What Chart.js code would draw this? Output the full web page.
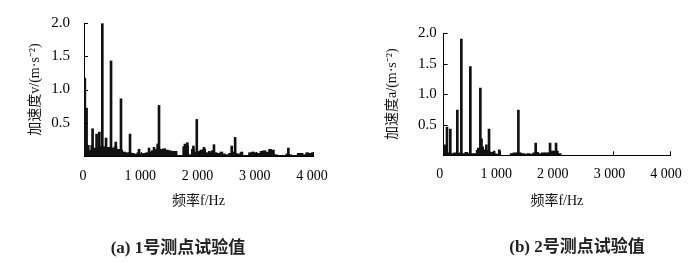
<!DOCTYPE html>
<html>
<head>
<meta charset="utf-8">
<script src="https://cdn.jsdelivr.net/npm/chart.js@4"></script>
<style>
    body { margin: 0; background: #fff; }
    #wrap { position: relative; width: 700px; height: 262px; overflow: hidden; }
    canvas { position: absolute; top: 0; }
    .caption {
        position: absolute; font-family: 'Liberation Serif', 'Noto Sans CJK SC', serif;
        font-size: 17px; font-weight: bold; color: #222; white-space: nowrap; transform: translate(-50%, -50%);
    }
</style>
</head>
<body>
<div id="wrap">
    <canvas id="chartA" width="350" height="262" style="left:0"></canvas>
    <canvas id="chartB" width="350" height="262" style="left:350px"></canvas>
    <div class="caption" style="left:178px; top:245px">(a) 1号测点试验值</div>
    <div class="caption" style="left:577px; top:244px">(b) 2号测点试验值</div>
</div>
<script>
// ejes compartidos
const xTicks = [0, 1000, 2000, 3000, 4000];
const xTickLabels = ['0', '1 000', '2 000', '3 000', '4 000'];
const yTicks = [0.5, 1.0, 1.5, 2.0];
const yTickLabels = ['0.5', '1.0', '1.5', '2.0'];

// (a) 1号测点 - picos principales
const peakFreqA = [15, 45, 75, 135, 150, 220, 268, 320, 385, 410, 472, 555, 646, 804, 961,
    1136, 1223, 1287, 1310, 1763, 1806, 1911, 1970, 2096, 2190, 2270, 2580, 2640, 2754, 3570];
const peakAmpA = [1.17, 0.72, 0.16, 0.16, 0.41, 0.33, 0.36, 1.99, 0.27, 0.13, 1.43, 0.21, 0.86, 0.33, 0.10,
    0.12, 0.13, 0.18, 0.76, 0.18, 0.20, 0.15, 0.55, 0.13, 0.07, 0.17, 0.15, 0.28, 0.06, 0.12];

// (a) fondo del espectro, cada 50 Hz
const floorFreqA = [0, 50, 100, 150, 200, 250, 300, 350, 400, 450, 500, 550, 600, 650, 700, 750, 800,
    850, 900, 950, 1000, 1050, 1100, 1150, 1200, 1250, 1300, 1350, 1400, 1450, 1500, 1550, 1600,
    1650, 1700, 1750, 1800, 1850, 1900, 1950, 2000, 2050, 2100, 2150, 2200, 2250, 2300, 2350, 2400,
    2450, 2500, 2550, 2600, 2650, 2700, 2750, 2800, 2850, 2900, 2950, 3000, 3050, 3100, 3150, 3200,
    3250, 3300, 3350, 3400, 3450, 3500, 3550, 3600, 3650, 3700, 3750, 3800, 3850, 3900, 3950, 4000];
const floorAmpA = [0.15, 0.10, 0.08, 0.10, 0.12, 0.12, 0.14, 0.14, 0.12, 0.13, 0.12, 0.14, 0.10, 0.09, 0.06, 0.05, 0.05,
    0.04, 0.03, 0.05, 0.03, 0.04, 0.05, 0.06, 0.08, 0.10, 0.12, 0.10, 0.11, 0.09, 0.08, 0.07, 0.07,
    0.01, 0.01, 0.14, 0.15, 0.02, 0.10, 0.06, 0.07, 0.09, 0.10, 0.05, 0.05, 0.08, 0.05, 0.04, 0.06,
    0.03, 0.02, 0.04, 0.06, 0.04, 0.03, 0.05, 0.01, 0.01, 0.05, 0.06, 0.05, 0.04, 0.07, 0.08, 0.06,
    0.10, 0.09, 0.02, 0.01, 0.01, 0.01, 0.03, 0.02, 0.01, 0.01, 0.04, 0.04, 0.02, 0.05, 0.04, 0.05];

// (b) 2号测点 - picos principales
const peakFreqB = [29, 58, 117, 241, 312, 471, 612, 648, 668, 690, 754, 801, 890, 983, 1320, 1626, 1880, 1986];
const peakAmpB = [0.17, 0.46, 0.43, 0.74, 1.90, 1.45, 0.12, 1.10, 0.27, 0.14, 0.17, 0.43, 0.07, 0.09, 0.74, 0.20, 0.20, 0.20];

// (b) fondo del espectro, cada 50 Hz
const floorFreqB = [0, 50, 100, 150, 200, 250, 300, 350, 400, 450, 500, 550, 600, 650, 700, 750, 800,
    850, 900, 950, 1000, 1050, 1100, 1150, 1200, 1250, 1300, 1350, 1400, 1450, 1500, 1550, 1600,
    1650, 1700, 1750, 1800, 1850, 1900, 1950, 2000, 2050];
const floorAmpB = [0.04, 0.04, 0.04, 0.03, 0.04, 0.03, 0.04, 0.03, 0.05, 0.03, 0.03, 0.03, 0.08, 0.10, 0.09, 0.08, 0.06,
    0.05, 0.03, 0.02, 0, 0, 0, 0, 0.03, 0.04, 0.04, 0.04, 0.03, 0.02, 0.03, 0.02, 0.04,
    0.05, 0.03, 0.04, 0.04, 0.04, 0.07, 0.07, 0.07, 0.03];

const FONT = "'Liberation Serif', 'Noto Sans CJK SC', serif";

// marcas de escala hacia adentro
const innerTicks = {
    id: 'innerTicks',
    afterDraw(chart) {
        const ctx = chart.ctx;
        const {left, bottom} = chart.chartArea;
        ctx.save();
        ctx.strokeStyle = '#000';
        ctx.lineWidth = 1;
        ctx.beginPath();
        yTicks.forEach(v => {
            const y = Math.round(chart.scales.y.getPixelForValue(v)) + 0.5;
            ctx.moveTo(left, y);
            ctx.lineTo(left + 4, y);
        });
        xTicks.slice(1).forEach(v => {
            const x = Math.round(chart.scales.x.getPixelForValue(v)) + 0.5;
            ctx.moveTo(x, bottom);
            ctx.lineTo(x, bottom - 4);
        });
        ctx.stroke();
        ctx.restore();
    }
};

function toPoints(freqs, amps) {
    return freqs.map((f, i) => ({x: f, y: amps[i]}));
}

function buildChart(id, cfg) {
    const ctx = document.getElementById(id).getContext('2d');
    return new Chart(ctx, {
        type: 'bar',
        data: {
            datasets: [{
                data: toPoints(cfg.floorFreq, cfg.floorAmp),
                backgroundColor: '#111',
                barThickness: 3,
                grouped: false
            }, {
                data: toPoints(cfg.peakFreq, cfg.peakAmp),
                backgroundColor: '#111',
                barThickness: 2,
                grouped: false
            }]
        },
        options: {
            responsive: false,
            animation: false,
            layout: { padding: cfg.padding },
            plugins: { legend: { display: false }, tooltip: { enabled: false } },
            scales: {
                x: {
                    type: 'linear',
                    min: 0,
                    max: 4000,
                    offset: false,
                    grid: { display: false, drawTicks: false },
                    border: { display: true, color: '#000', width: 1 },
                    afterBuildTicks: s => { s.ticks = xTicks.map(v => ({value: v})); },
                    afterFit: s => { s.height = cfg.xHeight; },
                    ticks: {
                        color: '#000',
                        padding: cfg.xPad,
                        labelOffset: cfg.xLabelOffset,
                        maxRotation: 0,
                        font: { family: FONT, size: 14 },
                        callback: v => xTickLabels[xTicks.indexOf(v)]
                    },
                    title: {
                        display: true,
                        text: '频率f/Hz',
                        color: '#111',
                        padding: 0,
                        font: { family: FONT, size: 14 }
                    }
                },
                y: {
                    min: 0,
                    max: 2,
                    grid: { display: false, drawTicks: false },
                    border: { display: true, color: '#000', width: 1 },
                    afterBuildTicks: s => { s.ticks = yTicks.map(v => ({value: v})); },
                    afterFit: s => { s.width = cfg.yWidth; },
                    ticks: {
                        color: '#000',
                        padding: cfg.yPad,
                        font: { family: FONT, size: 15 },
                        callback: v => yTickLabels[yTicks.indexOf(v)]
                    },
                    title: {
                        display: true,
                        text: cfg.yTitle,
                        color: '#111',
                        padding: { top: cfg.yTitlePad, bottom: 0 },
                        font: { family: FONT, size: 14 }
                    }
                }
            }
        },
        plugins: [innerTicks]
    });
}

buildChart('chartA', {
    floorFreq: floorFreqA, floorAmp: floorAmpA, peakFreq: peakFreqA, peakAmp: peakAmpA,
    padding: { left: 0, top: 23, right: 37, bottom: 52 },
    xHeight: 54, xPad: 12, xLabelOffset: -1,
    yWidth: 84, yPad: 14, yTitlePad: 26.6,
    yTitle: '加速度v/(m·s⁻²)'
});

buildChart('chartB', {
    floorFreq: floorFreqB, floorAmp: floorAmpB, peakFreq: peakFreqB, peakAmp: peakAmpB,
    padding: { left: 0, top: 33, right: 30, bottom: 52 },
    xHeight: 54.7, xPad: 10.6, xLabelOffset: -4,
    yWidth: 93.7, yPad: 7, yTitlePad: 33.6,
    yTitle: '加速度a/(m·s⁻²)'
});
</script>
</body>
</html>
